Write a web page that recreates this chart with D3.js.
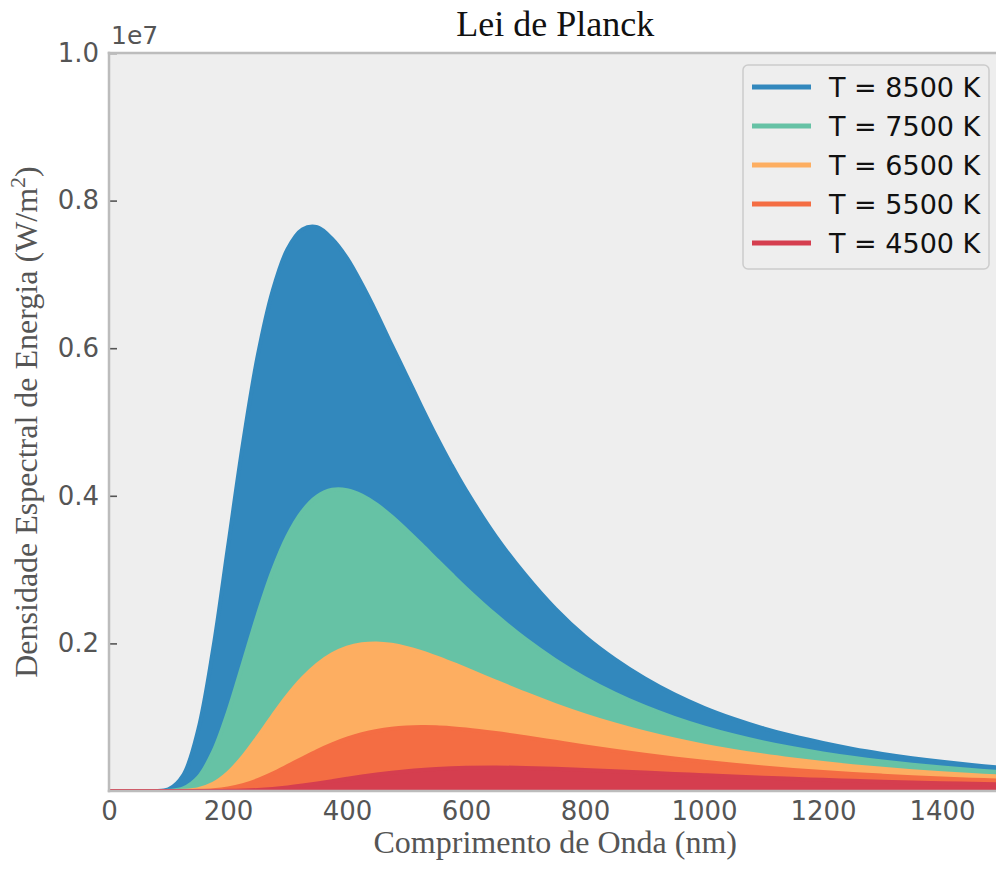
<!DOCTYPE html>
<html>
<head>
<meta charset="utf-8">
<script src="https://cdn.jsdelivr.net/npm/d3@7"></script>
<style>
  body { margin: 0; background: #ffffff; }
  svg { display: block; }
  .tick text { font-family: "DejaVu Sans", sans-serif; fill: #555555; }
  .serif { font-family: "Liberation Serif", "Times New Roman", serif; }
</style>
</head>
<body>
<div id="chart"></div>
<script>
// wavelength samples (nm)
const wavelengths = [0, 25, 50, 75, 100, 125, 150, 175, 200, 225, 250, 275, 300, 325, 350, 375, 400, 425, 450, 475, 500, 525, 550, 575, 600,
  650, 700, 750, 800, 850, 900, 950, 1000, 1050, 1100, 1150, 1200, 1250, 1300, 1350, 1400, 1450, 1500];

// spectral energy density, in units of 1e6 W/m^2
const t8500 = [0, 0, 0, 0.0003, 0.0225, 0.217, 0.830, 1.922, 3.309, 4.70, 5.898, 6.775, 7.342, 7.61, 7.64, 7.48, 7.22, 6.866, 6.47, 6.045, 5.63, 5.21, 4.805, 4.426, 4.074,
  3.45, 2.926, 2.471, 2.093, 1.787, 1.528, 1.31, 1.128, 0.977, 0.849, 0.741, 0.650, 0.570, 0.503, 0.445, 0.395, 0.352, 0.316];
const t7500 = [0, 0, 0, 0, 0.0023, 0.0355, 0.184, 0.529, 1.069, 1.723, 2.388, 2.980, 3.452, 3.787, 3.991, 4.081, 4.077, 4.004, 3.879, 3.718, 3.534, 3.340, 3.139, 2.940, 2.746,
  2.383, 2.057, 1.774, 1.529, 1.321, 1.143, 0.992, 0.863, 0.753, 0.659, 0.579, 0.510, 0.451, 0.400, 0.356, 0.317, 0.284, 0.255];
const t6500 = [0, 0, 0, 0, 0.0001, 0.0034, 0.0257, 0.098, 0.2445, 0.464, 0.733, 1.018, 1.290, 1.525, 1.713, 1.852, 1.942, 1.988, 2.000, 1.981, 1.940, 1.882, 1.812, 1.734, 1.652,
  1.483, 1.318, 1.165, 1.026, 0.902, 0.793, 0.698, 0.615, 0.543, 0.480, 0.426, 0.378, 0.337, 0.301, 0.269, 0.241, 0.217, 0.196];
const t5500 = [0, 0, 0, 0, 0, 0.0001, 0.0018, 0.0098, 0.0326, 0.0776, 0.1465, 0.2355, 0.3368, 0.4415, 0.5424, 0.6322, 0.708, 0.769, 0.814, 0.844, 0.861, 0.867, 0.864, 0.852, 0.835,
  0.786, 0.728, 0.666, 0.604, 0.545, 0.491, 0.441, 0.395, 0.355, 0.318, 0.286, 0.257, 0.231, 0.208, 0.188, 0.170, 0.154, 0.140];
const t4500 = [0, 0, 0, 0, 0, 0, 0, 0.0004, 0.0018, 0.0059, 0.0143, 0.0284, 0.0485, 0.0738, 0.1029, 0.134, 0.1653, 0.1953, 0.2232, 0.2475, 0.2684, 0.2854, 0.2983, 0.3079, 0.3141,
  0.318, 0.313, 0.302, 0.286, 0.269, 0.250, 0.232, 0.214, 0.196, 0.180, 0.165, 0.151, 0.138, 0.126, 0.116, 0.106, 0.097, 0.089];

const seriesLabels = ['T = 8500 K', 'T = 7500 K', 'T = 6500 K', 'T = 5500 K', 'T = 4500 K'];
const seriesColors = ['#3288bd', '#66c2a5', '#fdae61', '#f46d43', '#d53e4f'];
const seriesValues = [t8500, t7500, t6500, t5500, t4500];

const xTicks = [0, 200, 400, 600, 800, 1000, 1200, 1400];
const yTicks = [2, 4, 6, 8, 10];

const W = 996, H = 869;
const plot = {l: 109, t: 53, r: 1001.5, b: 791};

const svg = d3.select('#chart').append('svg')
  .attr('width', W).attr('height', H)
  .attr('viewBox', [0, 0, W, H]);

const x = d3.scaleLinear().domain([0, 1500]).range([plot.l, plot.r]);
const y = d3.scaleLinear().domain([0, 10]).range([plot.b, plot.t]);

// background
svg.append('rect')
  .attr('x', plot.l).attr('y', plot.t)
  .attr('width', plot.r - plot.l).attr('height', plot.b - plot.t)
  .attr('fill', '#eeeeee');

svg.append('clipPath').attr('id', 'clip')
  .append('rect')
  .attr('x', plot.l).attr('y', plot.t)
  .attr('width', plot.r - plot.l).attr('height', plot.b - plot.t);

const series = seriesValues.map((vals, i) => ({
  label: seriesLabels[i],
  color: seriesColors[i],
  points: wavelengths.map((w, j) => ({w: w, v: vals[j]}))
}));

const curve = d3.curveCatmullRom.alpha(0.5);

const area = d3.area()
  .x(d => x(d.w))
  .y0(y(0))
  .y1(d => y(d.v))
  .curve(curve);

const line = d3.line()
  .x(d => x(d.w))
  .y(d => y(d.v))
  .curve(curve);

const g = svg.append('g').attr('clip-path', 'url(#clip)');

series.forEach(s => {
  g.append('path')
    .attr('d', area(s.points))
    .attr('fill', s.color);
  g.append('path')
    .attr('d', line(s.points))
    .attr('fill', 'none')
    .attr('stroke', s.color)
    .attr('stroke-width', 4);
});

// axes
const yAxis = svg.append('g')
  .attr('transform', `translate(${plot.l},0)`)
  .call(d3.axisLeft(y).tickValues(yTicks).tickFormat(d => (d / 10).toFixed(1)).tickSize(-8).tickPadding(10));
yAxis.select('.domain').remove();
yAxis.selectAll('.tick line').attr('stroke', '#555555').attr('stroke-width', 1.6);
yAxis.selectAll('.tick text').attr('font-size', 26);

const xAxis = svg.append('g')
  .attr('transform', `translate(0,${plot.b})`)
  .call(d3.axisBottom(x).tickValues(xTicks).tickFormat(d3.format('d')).tickSize(0).tickPadding(11));
xAxis.select('.domain').remove();
xAxis.selectAll('.tick text').attr('font-size', 26);

// spines
const spine = {stroke: '#bcbcbc', width: 2.5};
[[plot.l, plot.t, plot.l, plot.b], [plot.l, plot.b, plot.r, plot.b], [plot.l, plot.t, plot.r, plot.t]].forEach(c => {
  svg.append('line')
    .attr('x1', c[0]).attr('y1', c[1]).attr('x2', c[2]).attr('y2', c[3])
    .attr('stroke', spine.stroke).attr('stroke-width', spine.width)
    .attr('stroke-linecap', 'square');
});

// offset text
svg.append('text')
  .attr('x', 111).attr('y', 44)
  .attr('font-family', '"DejaVu Sans", sans-serif')
  .attr('font-size', 25)
  .attr('fill', '#555555')
  .text('1e7');

// title and labels
svg.append('text')
  .attr('class', 'serif')
  .attr('x', (plot.l + plot.r) / 2).attr('y', 36)
  .attr('text-anchor', 'middle')
  .attr('font-size', 36)
  .attr('fill', '#111111')
  .text('Lei de Planck');

svg.append('text')
  .attr('class', 'serif')
  .attr('x', (plot.l + plot.r) / 2).attr('y', 853)
  .attr('text-anchor', 'middle')
  .attr('font-size', 32)
  .attr('fill', '#555555')
  .text('Comprimento de Onda (nm)');

const yLabel = svg.append('text')
  .attr('class', 'serif')
  .attr('transform', `translate(37,${(plot.t + plot.b) / 2}) rotate(-90)`)
  .attr('text-anchor', 'middle')
  .attr('font-size', 32)
  .attr('fill', '#555555');
yLabel.append('tspan').text('Densidade Espectral de Energia (W/m');
yLabel.append('tspan').attr('dy', -12).attr('font-size', 22).text('2');
yLabel.append('tspan').attr('dy', 12).text(')');

// legend
const legend = svg.append('g');
legend.append('rect')
  .attr('x', 743).attr('y', 65)
  .attr('width', 246).attr('height', 204)
  .attr('rx', 5)
  .attr('fill', '#eeeeee')
  .attr('stroke', '#cccccc')
  .attr('stroke-width', 1.5);

const item = legend.selectAll('g.item')
  .data(series)
  .join('g')
  .attr('class', 'item')
  .attr('transform', (d, i) => `translate(0,${87 + i * 39})`);

item.append('line')
  .attr('x1', 752).attr('x2', 811)
  .attr('stroke', d => d.color)
  .attr('stroke-width', 5);

item.append('text')
  .attr('x', 829).attr('dy', '0.36em')
  .attr('font-family', '"DejaVu Sans", sans-serif')
  .attr('font-size', 27)
  .attr('fill', '#111111')
  .text(d => d.label);
</script>
</body>
</html>
